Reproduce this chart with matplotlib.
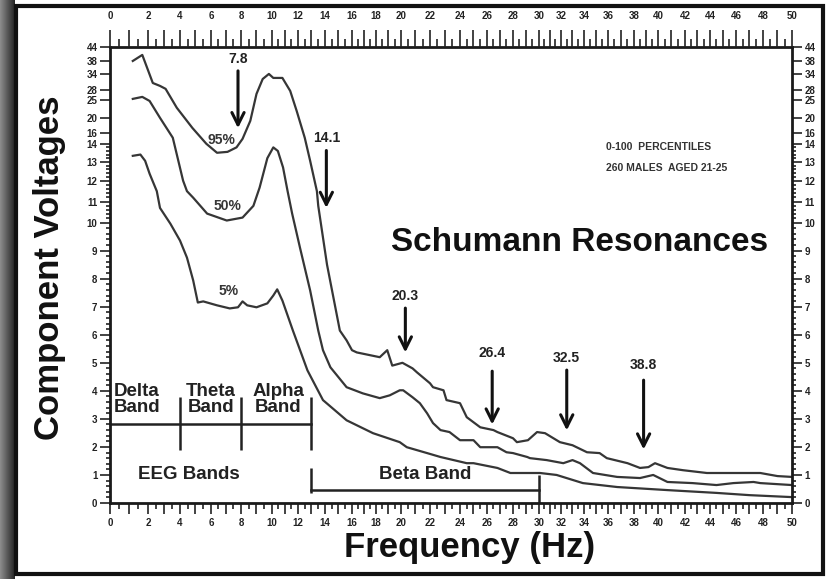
import numpy as np
import matplotlib.pyplot as plt
from matplotlib.patches import Rectangle
from matplotlib.ticker import FixedLocator, FuncFormatter

# courbes (frequence en Hz, tension)
freq_95 = [1.2, 1.7, 2.3, 2.75, 3.1, 3.8, 4.8, 5.7, 6.4, 7.1, 7.7, 8.1, 8.6, 9.0, 9.4,
           9.8, 10.1, 10.8, 11.4, 11.9, 12.5, 12.9, 13.4, 13.5, 14.15, 15.1, 15.6, 16.0, 16.4, 18.3,
           18.9, 19.3, 20.1, 20.8, 21.1, 22.0, 22.2, 22.9, 23.1, 24.0, 24.5, 25.5, 26.5, 26.8, 28.0,
           28.3, 29.15, 29.85, 30.55, 31.9, 33.0, 34.25, 35.3, 35.9, 37.5, 38.5, 39.2, 39.75, 40.7, 41.85,
           43.75, 45.75, 47.8, 49.0, 50.0]
volt_95 = [38.0, 40.6, 30.6, 29.5, 28.4, 22.8, 17.3, 14.0, 13.5, 13.55, 13.8, 14.9, 19.2, 26.8, 32.1,
           34.0, 32.5, 32.5, 27.7, 21.9, 15.1, 13.05, 11.5, 10.8, 8.5, 6.15, 5.8, 5.45, 5.37, 5.2,
           5.45, 4.9, 5.0, 4.8, 4.66, 4.27, 4.13, 4.02, 3.67, 3.56, 3.06, 2.7, 2.6, 2.53, 2.31,
           2.17, 2.24, 2.53, 2.49, 2.17, 2.06, 1.81, 1.78, 1.6, 1.42, 1.25, 1.28, 1.42, 1.25, 1.17,
           1.07, 1.07, 1.07, 0.96, 0.93]

freq_50 = [1.2, 1.7, 2.1, 2.75, 3.55, 4.2, 4.45, 4.85, 5.75, 7.05, 8.1, 8.8, 9.2, 9.7, 10.1,
           10.45, 10.85, 11.2, 11.55, 12.15, 12.9, 13.5, 13.85, 14.4, 15.6, 16.9, 18.3, 19.1, 19.9, 20.15,
           20.8, 21.3, 21.8, 22.2, 22.7, 23.3, 24.0, 25.0, 25.5, 26.2, 26.8, 27.5, 28.0, 29.1, 29.3,
           30.7, 32.2, 33.0, 33.65, 34.75, 36.7, 38.5, 39.6, 40.7, 42.6, 44.5, 45.8, 47.3, 47.8, 50.0]
volt_50 = [25.3, 25.9, 24.7, 20.0, 15.1, 12.0, 11.5, 11.19, 10.43, 10.1, 10.24, 10.8, 11.67, 13.2, 13.8,
           13.6, 12.7, 11.5, 10.43, 9.1, 7.58, 6.15, 5.45, 4.84, 4.13, 3.91, 3.74, 3.84, 4.02, 4.02,
           3.77, 3.56, 3.2, 2.85, 2.6, 2.53, 2.24, 2.24, 1.99, 1.99, 1.99, 1.81, 1.78, 1.64, 1.6,
           1.53, 1.42, 1.53, 1.42, 1.07, 0.93, 0.89, 1.0, 0.75, 0.71, 0.64, 0.71, 0.75, 0.71, 0.64]

freq_5 = [1.2, 1.6, 1.85, 2.1, 2.55, 2.75, 3.4, 4.0, 4.45, 4.85, 5.15, 5.5, 6.4, 7.25, 7.8,
          8.1, 8.4, 9.0, 9.7, 10.1, 10.4, 10.8, 11.6, 12.7, 13.85, 15.6, 17.75, 19.9, 20.4, 21.8,
          22.7, 24.5, 25.0, 26.8, 27.8, 28.0, 29.3, 30.1, 31.6, 33.9, 36.7, 40.7, 44.5, 47.0, 50.0]
volt_5 = [13.33, 13.4, 13.05, 12.37, 11.5, 10.7, 9.96, 9.36, 8.75, 7.94, 7.15, 7.19, 7.05, 6.94, 6.98,
          7.19, 7.05, 6.98, 7.12, 7.4, 7.62, 7.22, 6.16, 4.73, 3.67, 2.95, 2.49, 2.17, 1.99, 1.78,
          1.64, 1.42, 1.42, 1.25, 1.07, 1.07, 1.07, 1.07, 1.0, 0.71, 0.57, 0.46, 0.36, 0.28, 0.21]

# resonances de Schumann (fleches)
resonances = [7.8, 14.1, 20.3, 26.4, 32.5, 38.8]
fleche_haut = [35.8, 13.78, 7.05, 4.8, 4.84, 4.48]
fleche_bas = [16.5, 10.57, 5.27, 2.7, 2.49, 1.81]
texte_y = [38.9, 15.1, 7.4, 5.34, 5.16, 4.91]

# bandes EEG
bandes_eeg = [0, 4, 8, 13]
noms_bandes = ["Delta\nBand", "Theta\nBand", "Alpha\nBand"]
bande_beta = [13, 30]

# graduations
y_ticks = [0, 1, 2, 3, 4, 5, 6, 7, 8, 9, 10, 11, 12, 13, 14, 16, 20, 25, 28, 34, 38, 44]
x_ticks = list(range(0, 51, 2))

# echelle non lineaire de l'original (valeurs -> pixels)
y_echelle_val = [0, 10, 11, 12, 13, 14, 16, 20, 25, 28, 34, 38, 44]
y_echelle_pos = [0, 281, 302, 323, 342, 360, 371, 386, 404, 414, 430, 443, 457]
x_echelle_val = list(range(0, 51, 2))
x_echelle_pos = [0, 38, 70, 101, 131, 162, 188, 215, 242, 266, 291, 320, 350, 377,
                 403, 429, 451, 474, 498, 524, 548, 575, 600, 626, 653, 682]


def interp_ext(v, xp, fp):
    v = np.asarray(v, dtype=float)
    r = np.interp(v, xp, fp)
    pente_b = (fp[1] - fp[0]) / (xp[1] - xp[0])
    pente_h = (fp[-1] - fp[-2]) / (xp[-1] - xp[-2])
    r = np.where(v < xp[0], fp[0] + (v - xp[0]) * pente_b, r)
    r = np.where(v > xp[-1], fp[-1] + (v - xp[-1]) * pente_h, r)
    return r


fy = (lambda v: interp_ext(v, y_echelle_val, y_echelle_pos),
      lambda p: interp_ext(p, y_echelle_pos, y_echelle_val))
fx = (lambda v: interp_ext(v, x_echelle_val, x_echelle_pos),
      lambda p: interp_ext(p, x_echelle_pos, x_echelle_val))

plt.rcParams['font.family'] = ['Liberation Sans', 'DejaVu Sans']

W, H = 828, 579
fig = plt.figure(figsize=(W / 100, H / 100), dpi=100)
ax = fig.add_axes([110 / W, 1 - 503 / H, 682 / W, 456 / H])
ax.set_xscale('function', functions=fx)
ax.set_yscale('function', functions=fy)
ax.set_xlim(0, 50)
ax.set_ylim(0, 44)

gris = '#363636'
for f, v in [(freq_95, volt_95), (freq_50, volt_50), (freq_5, volt_5)]:
    ax.plot(f, v, color=gris, lw=1.6)

ax.text(6.7, 14.6, "95%", fontsize=10, fontweight='bold', color=gris, ha='center', va='center')
ax.text(7.1, 10.8, "50%", fontsize=10, fontweight='bold', color=gris, ha='center', va='center')
ax.text(7.2, 7.55, "5%", fontsize=10, fontweight='bold', color=gris, ha='center', va='center')

for r, h, b, t in zip(resonances, fleche_haut, fleche_bas, texte_y):
    ax.annotate("", xy=(r, b), xytext=(r, h),
                arrowprops=dict(arrowstyle='->', lw=2.2, color='#111111', mutation_scale=22))
    ax.text(r, t, f"{r}", fontsize=10, fontweight='bold', color='#222222', ha='center', va='center')

# bandes EEG
ax.plot([bandes_eeg[0], bandes_eeg[-1]], [2.81, 2.81], color='#222222', lw=1.8)
ax.vlines(bandes_eeg[1:], 1.89, 3.77, color='#222222', lw=1.8)
for i, nom in enumerate(noms_bandes):
    xc = bandes_eeg[i] + 0.2 if i == 0 else (bandes_eeg[i] + bandes_eeg[i + 1]) / 2
    ax.text(xc, 3.7, nom, fontsize=13.5, fontweight='bold', color='#222222',
            ha='left' if i == 0 else 'center', va='center', linespacing=0.95)
ax.text(4.6, 1.0, "EEG Bands", fontsize=13.5, fontweight='bold', color='#222222', ha='center', va='center')

ax.plot(bande_beta, [0.46, 0.46], color='#222222', lw=1.8)
ax.vlines([bande_beta[0]], 0.36, 1.25, color='#222222', lw=1.8)
ax.vlines([bande_beta[1]], 0.0, 1.0, color='#222222', lw=1.8)
ax.text(21.7, 1.0, "Beta Band", fontsize=13.5, fontweight='bold', color='#222222', ha='center', va='center')

ax.text(0.689, 0.572, "Schumann Resonances", transform=ax.transAxes, fontsize=24,
        fontweight='bold', color='#111111', ha='center', va='center')
ax.text(0.727, 0.781, "0-100  PERCENTILES", transform=ax.transAxes, fontsize=7.5,
        fontweight='bold', color='#333333', ha='left', va='center')
ax.text(0.727, 0.735, "260 MALES  AGED 21-25", transform=ax.transAxes, fontsize=7.5,
        fontweight='bold', color='#333333', ha='left', va='center')

# axes et graduations
for s in ax.spines.values():
    s.set_linewidth(2)
    s.set_color('#1a1a1a')

fmt_x = FuncFormatter(lambda v, p: f"{int(v)}" if int(v) in x_ticks else "")
ax.xaxis.set_major_locator(FixedLocator(list(range(0, 51))))
ax.xaxis.set_minor_locator(FixedLocator(list(np.arange(0.5, 50, 1.0))))
ax.xaxis.set_major_formatter(fmt_x)
ax.yaxis.set_major_locator(FixedLocator(y_ticks))
ax.yaxis.set_minor_locator(FixedLocator(list(np.arange(0.2, 14, 0.2))))
ax.yaxis.set_major_formatter(FuncFormatter(lambda v, p: f"{int(v)}"))

ax.tick_params(axis='x', which='both', direction='out', width=1.2, color='#222222')
ax.tick_params(axis='x', which='major', length=8, labelsize=7, pad=3)
ax.tick_params(axis='x', which='minor', length=4)
ax.tick_params(axis='y', which='both', right=True, labelright=True, direction='out', width=1.2, color='#222222')
ax.tick_params(axis='y', which='major', length=7, labelsize=7, pad=2)
ax.tick_params(axis='y', which='minor', length=3)

# regle du haut
axt = ax.twiny()
axt.set_xscale('function', functions=fx)
axt.set_xlim(0, 50)
axt.xaxis.set_major_locator(FixedLocator(list(range(0, 51))))
axt.xaxis.set_minor_locator(FixedLocator(list(np.arange(0.5, 50, 1.0))))
axt.xaxis.set_major_formatter(fmt_x)
axt.tick_params(axis='x', which='both', direction='out', width=1.2, color='#222222')
axt.tick_params(axis='x', which='major', length=12, labelsize=7, pad=7)
axt.tick_params(axis='x', which='minor', length=6)
for s in axt.spines.values():
    s.set_visible(False)

for lab in ax.get_xticklabels() + ax.get_yticklabels() + axt.get_xticklabels():
    lab.set_fontweight('bold')
    lab.set_color('#222222')

fig.text(470 / W, 1 - 548 / H, "Frequency (Hz)", fontsize=25, fontweight='bold',
         ha='center', va='center', color='#111111')
fig.text(50 / W, 1 - 268 / H, "Component Voltages", fontsize=25, fontweight='bold',
         rotation=90, ha='center', va='center', color='#111111')

# cadre de la photo
bord = fig.add_axes([0, 0, 15 / W, 1])
bord.imshow(np.linspace(0.55, 0.15, 30).reshape(1, -1), cmap='gray', vmin=0, vmax=1, aspect='auto')
bord.axis('off')
fig.patches.append(Rectangle((16 / W, 5 / H), 807 / W, 568 / H, transform=fig.transFigure,
                             fill=False, edgecolor='#111111', lw=3))

fig.savefig("out.png", dpi=100)
